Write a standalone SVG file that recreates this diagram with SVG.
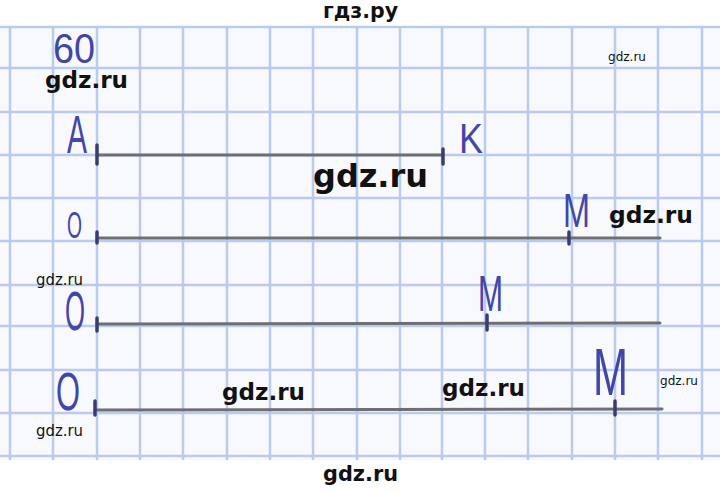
<svg xmlns="http://www.w3.org/2000/svg" width="720" height="493" viewBox="0 0 720 493">
<style>
.grid line{stroke:#b9cbef;stroke-width:2.5}
.pen{stroke:#6e7070;stroke-width:3;stroke-linecap:round;fill:none}
.tick{stroke:#3a3c70;stroke-width:3.5;stroke-linecap:round}
.hw{font-family:"Liberation Sans",Arial,sans-serif;fill:#4146a8;font-weight:normal}
.wm{font-family:"DejaVu Sans",Verdana,sans-serif;font-weight:bold;fill:#111}
.wms{font-family:"DejaVu Sans",Verdana,sans-serif;fill:#111}
</style>
<rect width="720" height="493" fill="#ffffff"/>
<rect id="paper" x="0" y="27" width="720" height="433" fill="#f8f9fd"/>
<g id="grid" class="grid">
<line x1="0" y1="27" x2="720" y2="27"/>
<line x1="0" y1="68" x2="720" y2="68"/>
<line x1="0" y1="112" x2="720" y2="112"/>
<line x1="0" y1="155" x2="720" y2="155"/>
<line x1="0" y1="198" x2="720" y2="198"/>
<line x1="0" y1="241" x2="720" y2="241"/>
<line x1="0" y1="285" x2="720" y2="285"/>
<line x1="0" y1="326" x2="720" y2="326"/>
<line x1="0" y1="370" x2="720" y2="370"/>
<line x1="0" y1="413" x2="720" y2="413"/>
<line x1="0" y1="456" x2="720" y2="456"/>
<line x1="10" y1="27" x2="10" y2="460"/>
<line x1="53" y1="27" x2="53" y2="460"/>
<line x1="97" y1="27" x2="97" y2="460"/>
<line x1="140" y1="27" x2="140" y2="460"/>
<line x1="183" y1="27" x2="183" y2="460"/>
<line x1="227" y1="27" x2="227" y2="460"/>
<line x1="270" y1="27" x2="270" y2="460"/>
<line x1="313" y1="27" x2="313" y2="460"/>
<line x1="357" y1="27" x2="357" y2="460"/>
<line x1="400" y1="27" x2="400" y2="460"/>
<line x1="442" y1="27" x2="442" y2="460"/>
<line x1="485" y1="27" x2="485" y2="460"/>
<line x1="528" y1="27" x2="528" y2="460"/>
<line x1="572" y1="27" x2="572" y2="460"/>
<line x1="615" y1="27" x2="615" y2="460"/>
<line x1="658" y1="27" x2="658" y2="460"/>
<line x1="702" y1="27" x2="702" y2="460"/>
</g>
<g id="segments">
<line class="pen" x1="97" y1="155" x2="443" y2="155"/>
<line class="pen" x1="97" y1="238" x2="660" y2="238"/>
<line class="pen" x1="97" y1="324" x2="660" y2="323"/>
<line class="pen" x1="95" y1="410" x2="662" y2="409"/>
<line class="tick" x1="97" y1="145" x2="97" y2="164"/>
<line class="tick" x1="443" y1="149" x2="443" y2="164"/>
<line class="tick" x1="97" y1="232" x2="97" y2="243"/>
<line class="tick" x1="569" y1="232" x2="569" y2="244"/>
<line class="tick" x1="97" y1="318" x2="97" y2="331"/>
<line class="tick" x1="487" y1="315" x2="487" y2="330"/>
<line class="tick" x1="95" y1="401" x2="95" y2="415"/>
<line class="tick" x1="615" y1="401" x2="615" y2="415"/>
</g>
<g id="labels">
<text class="hw" x="53" y="63" font-size="42" textLength="42" lengthAdjust="spacingAndGlyphs">60</text>
<text class="hw" x="67" y="153" font-size="53" textLength="20" lengthAdjust="spacingAndGlyphs">A</text>
<text class="hw" x="459" y="153" font-size="42" textLength="24" lengthAdjust="spacingAndGlyphs">K</text>
<text class="hw" x="67" y="238" font-size="36" textLength="15" lengthAdjust="spacingAndGlyphs">O</text>
<text class="hw" x="563" y="227" font-size="49" textLength="27" lengthAdjust="spacingAndGlyphs">M</text>
<text class="hw" x="65" y="330" font-size="56" textLength="20" lengthAdjust="spacingAndGlyphs">O</text>
<text class="hw" x="478" y="311" font-size="50" textLength="25" lengthAdjust="spacingAndGlyphs">M</text>
<text class="hw" x="56" y="410" font-size="54" textLength="24" lengthAdjust="spacingAndGlyphs">O</text>
<text class="hw" x="593" y="395" font-size="66" textLength="35" lengthAdjust="spacingAndGlyphs">M</text>
</g>
<g id="watermarks">
<text class="wm" x="323" y="18" font-size="21" textLength="75" lengthAdjust="spacingAndGlyphs">гдз.ру</text>
<text class="wm" x="45" y="88" font-size="23" textLength="83" lengthAdjust="spacingAndGlyphs">gdz.ru</text>
<text class="wm" x="313" y="187" font-size="32" textLength="115" lengthAdjust="spacingAndGlyphs">gdz.ru</text>
<text class="wm" x="609" y="223" font-size="23" textLength="84" lengthAdjust="spacingAndGlyphs">gdz.ru</text>
<text class="wm" x="222" y="400" font-size="23" textLength="83" lengthAdjust="spacingAndGlyphs">gdz.ru</text>
<text class="wm" x="442" y="396" font-size="23" textLength="83" lengthAdjust="spacingAndGlyphs">gdz.ru</text>
<text class="wm" x="323" y="481" font-size="21" textLength="75" lengthAdjust="spacingAndGlyphs">gdz.ru</text>
<text class="wms" x="608" y="61" font-size="13" textLength="38" lengthAdjust="spacingAndGlyphs">gdz.ru</text>
<text class="wms" x="36" y="285" font-size="15" textLength="47" lengthAdjust="spacingAndGlyphs">gdz.ru</text>
<text class="wms" x="660" y="385" font-size="13" textLength="38" lengthAdjust="spacingAndGlyphs">gdz.ru</text>
<text class="wms" x="36" y="436" font-size="15" textLength="47" lengthAdjust="spacingAndGlyphs">gdz.ru</text>
</g>
</svg>
